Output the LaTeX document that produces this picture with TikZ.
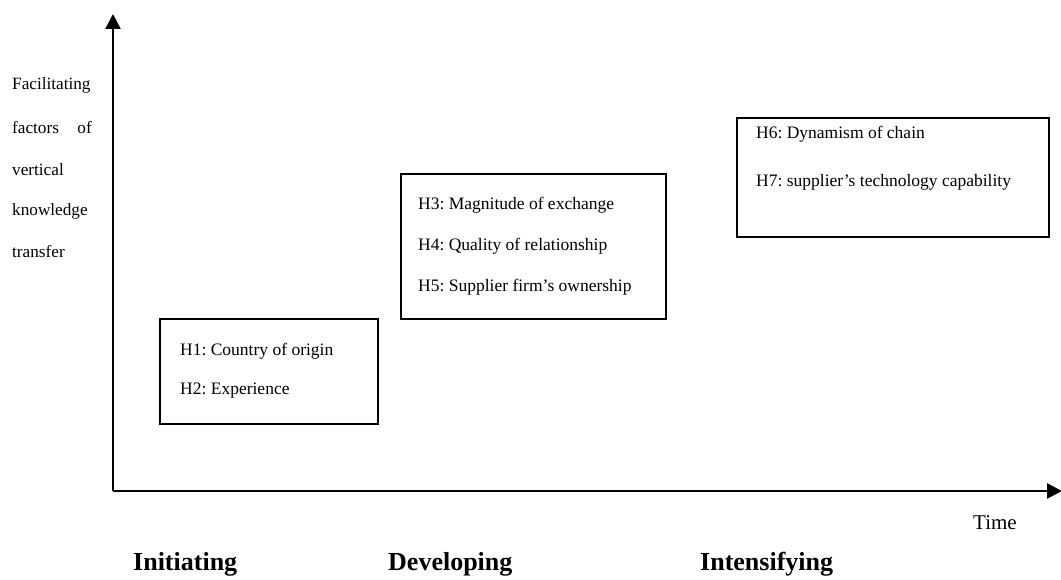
\documentclass[tikz,border=0pt]{standalone}
\usepackage{fontspec}
\setmainfont{Liberation Serif}
\usetikzlibrary{arrows.meta}
\frenchspacing
\tikzset{
  axis/.style={line width=2.6pt, -{Triangle[length=15pt,width=15pt]}},
  hbox/.style={draw, line width=2pt, anchor=north west, inner sep=0pt},
  htext/.style={anchor=west, inner sep=0pt, font=\fontsize{17.5}{20}\selectfont},
  ylab/.style={anchor=west, inner sep=0pt, font=\fontsize{17.2}{20}\selectfont},
  stage/.style={anchor=west, inner sep=0pt, font=\fontsize{26}{30}\selectfont\bfseries},
}
\begin{document}
\begin{tikzpicture}[x=1pt,y=-1pt]
\useasboundingbox (0,0) rectangle (1061,580);
\coordinate (O) at (113,491);
\coordinate (ytop) at (113,14);
\coordinate (xend) at (1062,491);
\draw[axis] (O) -- (ytop);
\draw[axis] (O) -- (xend);

\node[ylab] (y1) at (12,85) {Facilitating};
\node[ylab] (y2) at (12,128) {factors};
\node[ylab, anchor=east] (y2b) at (92,128) {of};
\node[ylab] (y3) at (12,170) {vertical};
\node[ylab] (y4) at (12,211) {knowledge};
\node[ylab] (y5) at (12,252) {transfer};

\node[hbox, minimum width=218pt, minimum height=105pt] (b1) at (159,318) {};
\node[htext] (h1) at (180,351) {H1: Country of origin};
\node[htext] (h2) at (180,391) {H2: Experience};

\node[hbox, minimum width=265pt, minimum height=145pt] (b2) at (400,173) {};
\node[htext] (h3) at (418,205) {H3: Magnitude of exchange};
\node[htext] (h4) at (418,246) {H4: Quality of relationship};
\node[htext] (h5) at (418,287) {H5: Supplier firm’s ownership};

\node[hbox, minimum width=312pt, minimum height=119pt] (b3) at (736,117) {};
\node[htext] (h6) at (756,134) {H6: Dynamism of chain};
\node[htext] (h7) at (756,182) {H7: supplier’s technology capability};

\node[anchor=west, inner sep=0pt, font=\fontsize{21}{25}\selectfont] (time) at (973,523) {Time};

\node[stage] (s1) at (133,564) {Initiating};
\node[stage] (s2) at (388,564) {Developing};
\node[stage] (s3) at (700,564) {Intensifying};
\end{tikzpicture}
\end{document}
